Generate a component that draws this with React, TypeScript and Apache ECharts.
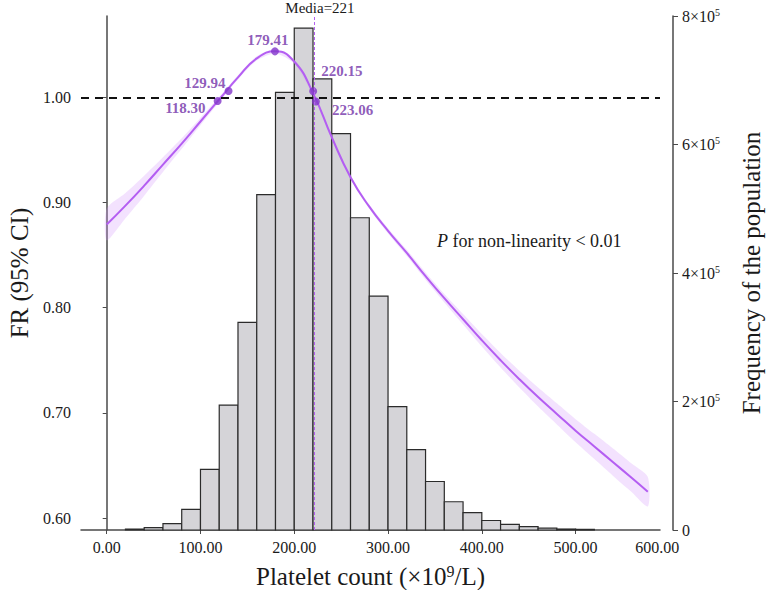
import React, { useEffect, useRef } from "react";
import * as echarts from "echarts";

// Histogram: bin edges (×10^9/L) and counts (frequency of the population)
const BIN_EDGES = [20, 40, 60, 80, 100, 120, 140, 160, 180, 200, 220, 240, 260, 280, 300, 320, 340, 360, 380, 400, 420, 440, 460, 480, 500, 520];
const BIN_COUNTS = [1500, 3700, 10000, 32000, 94500, 194500, 323000, 522000, 681000, 781000, 702000, 617000, 486000, 364000, 192000, 125000, 75500, 44000, 27000, 14800, 8600, 5400, 2800, 1500, 1000];

// Restricted cubic spline: FR and 95% CI
const CURVE_X = [0, 20, 40, 60, 80, 100, 120, 140, 160, 180, 200, 220, 240, 260, 280, 300, 320, 340, 360, 380, 400, 420, 440, 460, 480, 500, 520, 540, 560, 577];
const FR = [0.879, 0.897, 0.916, 0.936, 0.956, 0.977, 0.998, 1.019, 1.037, 1.0437, 1.034, 1.004, 0.962, 0.924, 0.896, 0.873, 0.852, 0.830, 0.809, 0.789, 0.769, 0.750, 0.732, 0.715, 0.699, 0.683, 0.668, 0.653, 0.638, 0.625];
const FR_LOWER = [0.864, 0.885, 0.9065, 0.929, 0.951, 0.9735, 0.9955, 1.017, 1.035, 1.0417, 1.032, 1.002, 0.960, 0.922, 0.894, 0.8705, 0.849, 0.8265, 0.805, 0.784, 0.763, 0.743, 0.724, 0.706, 0.689, 0.672, 0.656, 0.640, 0.6245, 0.611];
const FR_UPPER = [0.894, 0.909, 0.9255, 0.943, 0.961, 0.9805, 1.0005, 1.021, 1.039, 1.0457, 1.036, 1.006, 0.964, 0.926, 0.898, 0.8755, 0.855, 0.8335, 0.813, 0.794, 0.775, 0.757, 0.740, 0.724, 0.709, 0.694, 0.680, 0.666, 0.6515, 0.639];

// Key points
const KEY_X = [118.30, 129.94, 179.41, 220.15, 223.06];
const KEY_Y = [0.9965, 1.006, 1.0437, 1.0057, 0.996];

const MEDIAN = 221;
const REF_FR = 1.0;

// Axis ticks / labels
const X_TICKS = [0, 100, 200, 300, 400, 500];
const X_LABEL_POS = [0, 100, 200, 300, 400, 500, 587];
const X_TICK_LABELS = ["0.00", "100.00", "200.00", "300.00", "400.00", "500.00", "600.00"];
const Y_TICKS = [0.6, 0.7, 0.8, 0.9, 1.0];

const FONT = "'Liberation Serif', 'Times New Roman', serif";
const AXIS_COLOR = "#4a4a4a";
const TEXT_COLOR = "#1a1a1a";
const PURPLE = "#b45ef2";
const POINT_COLOR = "#8236c9";
const POINT_LABEL_COLOR = "#7232a8";

const KEY_LABEL_STYLE: any[] = [
  { position: "left", distance: 8, offset: [0, 7] },
  { position: "left", distance: 0, offset: [1, -8] },
  { position: "top", distance: 0, offset: [-7, 0] },
  { position: "right", distance: 4, offset: [0, -20] },
  { position: "right", distance: 12, offset: [0, 8] },
];

export default function App() {
  const ref = useRef<HTMLDivElement>(null);

  useEffect(() => {
    const chart = echarts.init(ref.current!, null, { renderer: "svg" });

    const histData = BIN_COUNTS.map((c, i) => [BIN_EDGES[i], BIN_EDGES[i + 1], c]);
    const bandData = CURVE_X.map((x, i) => [x, FR_LOWER[i], FR_UPPER[i]]);
    const frData = CURVE_X.map((x, i) => [x, FR[i]]);
    const keyData = KEY_X.map((x, i) => ({
      value: [x, KEY_Y[i]],
      label: {
        show: true,
        ...KEY_LABEL_STYLE[i],
        formatter: x.toFixed(2),
        color: POINT_LABEL_COLOR,
        fontFamily: FONT,
        fontWeight: "bold",
        fontSize: 15,
      },
    }));

    const option: any = {
      animation: false,
      backgroundColor: "#ffffff",
      grid: { left: 81, right: 106, top: 16, bottom: 60, containLabel: false, outerBoundsMode: "none" },
      xAxis: {
        type: "value",
        min: -27.4,
        max: 590,
        name: "{a|Platelet count (×10}{s|9}{a|/L)}",
        nameLocation: "middle",
        nameGap: 33,
        nameTextStyle: {
          rich: {
            a: { fontSize: 25, fontFamily: FONT, color: TEXT_COLOR },
            s: { fontSize: 16, fontFamily: FONT, color: TEXT_COLOR, padding: [0, 0, 11, 0] },
          },
        },
        axisLine: { show: true, lineStyle: { color: AXIS_COLOR, width: 1.5 } },
        axisTick: { show: true, customValues: X_TICKS, length: 4, lineStyle: { color: AXIS_COLOR } },
        axisLabel: {
          customValues: X_LABEL_POS,
          formatter: (v: number) => {
            const i = X_LABEL_POS.indexOf(v);
            return i >= 0 ? X_TICK_LABELS[i] : "";
          },
          fontSize: 16,
          fontFamily: FONT,
          color: TEXT_COLOR,
          margin: 9,
        },
        splitLine: { show: false },
      },
      yAxis: [
        {
          type: "value",
          min: 0.5886,
          max: 1.0773,
          name: "FR (95% CI)",
          nameLocation: "middle",
          nameRotate: 90,
          nameGap: 47,
          nameTextStyle: { fontSize: 25, fontFamily: FONT, color: TEXT_COLOR },
          axisLine: { show: true, lineStyle: { color: AXIS_COLOR, width: 1.5 } },
          axisTick: { show: true, customValues: Y_TICKS, length: 4, lineStyle: { color: AXIS_COLOR } },
          axisLabel: {
            customValues: Y_TICKS,
            formatter: (v: number) => v.toFixed(2),
            fontSize: 16,
            fontFamily: FONT,
            color: TEXT_COLOR,
            margin: 10,
          },
          splitLine: { show: false },
        },
        {
          type: "value",
          position: "right",
          offset: 13,
          min: 0,
          max: 800000,
          interval: 200000,
          name: "Frequency of the population",
          nameLocation: "middle",
          nameRotate: 90,
          nameGap: 66,
          nameTextStyle: { fontSize: 25, fontFamily: FONT, color: TEXT_COLOR },
          axisLine: { show: true, lineStyle: { color: AXIS_COLOR, width: 1.5 } },
          axisTick: { show: true, length: 5, lineStyle: { color: AXIS_COLOR } },
          axisLabel: {
            formatter: (v: number) => (v === 0 ? "{n|0}" : `{n|${v / 100000}×10}{s|5}`),
            rich: {
              n: { fontSize: 16, fontFamily: FONT, color: TEXT_COLOR },
              s: { fontSize: 10, fontFamily: FONT, color: TEXT_COLOR, padding: [0, 0, 8, 0] },
            },
            margin: 9,
          },
          splitLine: { show: false },
        },
      ],
      graphic: [
        {
          type: "text",
          left: 437,
          top: 232,
          style: {
            text: "{i|P}{r| for non-linearity < 0.01}",
            rich: {
              i: { fontSize: 18, fontFamily: FONT, fontStyle: "italic", fill: TEXT_COLOR },
              r: { fontSize: 18, fontFamily: FONT, fill: TEXT_COLOR },
            },
          },
          z: 10,
        },
      ],
      series: [
        {
          type: "custom",
          name: "Frequency",
          xAxisIndex: 0,
          yAxisIndex: 1,
          z: 1,
          silent: true,
          data: histData,
          encode: { x: [0, 1], y: 2 },
          renderItem: (params: any, api: any) => {
            const p0 = api.coord([api.value(0), api.value(2)]);
            const p1 = api.coord([api.value(1), 0]);
            return {
              type: "rect",
              shape: { x: p0[0], y: p0[1], width: p1[0] - p0[0], height: p1[1] - p0[1] },
              style: { fill: "#d5d4d8", stroke: "#2b2b2b", lineWidth: 1.2 },
            };
          },
        },
        {
          type: "custom",
          name: "95% CI",
          xAxisIndex: 0,
          yAxisIndex: 0,
          z: 2,
          silent: true,
          data: bandData,
          encode: { x: 0, y: [1, 2] },
          renderItem: (params: any, api: any) => {
            if (params.dataIndex !== 0) return null;
            const upper = bandData.map((d) => api.coord([d[0], d[2]]));
            const lower = bandData.map((d) => api.coord([d[0], d[1]])).reverse();
            return {
              type: "polygon",
              shape: { points: upper.concat(lower), smooth: 0.25 },
              style: { fill: "rgba(212,150,250,0.28)", stroke: "none" },
            };
          },
        },
        {
          type: "line",
          name: "FR",
          yAxisIndex: 0,
          data: frData,
          smooth: true,
          symbol: "none",
          silent: true,
          lineStyle: { color: PURPLE, width: 2 },
          z: 3,
          markLine: {
            silent: true,
            symbol: ["none", "none"],
            animation: false,
            data: [
              {
                yAxis: REF_FR,
                lineStyle: { type: [8, 6], color: "#111111", width: 2 },
                label: { show: false },
              },
              {
                xAxis: MEDIAN,
                lineStyle: { type: [3, 2], color: PURPLE, width: 1 },
                label: {
                  show: true,
                  position: "end",
                  distance: 1,
                  formatter: `Media=${MEDIAN}`,
                  fontSize: 15,
                  fontFamily: FONT,
                  color: TEXT_COLOR,
                  padding: [0, 0, 0, 12],
                },
              },
            ],
          },
        },
        {
          type: "scatter",
          name: "Key points",
          yAxisIndex: 0,
          data: keyData,
          symbol: "circle",
          symbolSize: 8,
          itemStyle: { color: POINT_COLOR },
          z: 4,
        },
      ],
    };

    chart.setOption(option);
    return () => chart.dispose();
  }, []);

  return (
    <div
      ref={ref}
      style={{ position: "fixed", left: 0, top: 0, width: 766, height: 590, background: "#ffffff" }}
    />
  );
}
